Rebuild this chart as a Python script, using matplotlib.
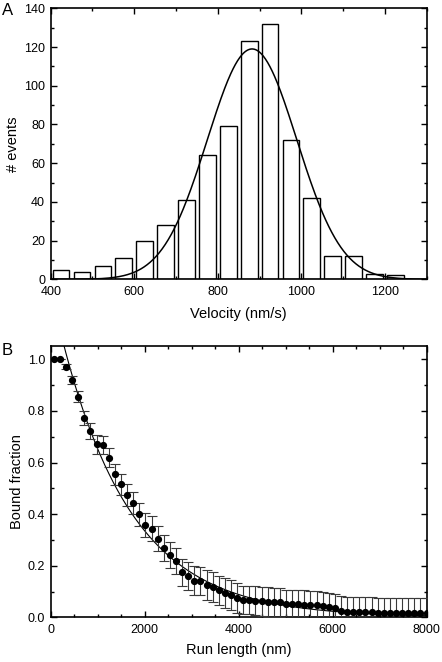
import numpy as np
import matplotlib
matplotlib.use("Agg")
import matplotlib.pyplot as plt
from matplotlib.ticker import MultipleLocator, FormatStrFormatter

plt.rcParams['font.family'] = ['Liberation Sans', 'DejaVu Sans']

# ---- Panel A data ----
vel_centers = [425, 475, 525, 575, 625, 675, 725, 775, 825, 875, 925, 975,
               1025, 1075, 1125, 1175, 1225]
vel_counts = [5, 4, 7, 11, 20, 28, 41, 64, 79, 123, 132, 72, 42, 12, 12, 3, 2]
gauss_amp = 119.0
gauss_mu = 882.0
gauss_sigma = 107.0

# ---- Panel B data ----
run_len = [66, 196, 326, 456, 586, 716, 846, 976, 1106, 1236, 1366, 1496, 1626,
           1756, 1886, 2016, 2146, 2276, 2406, 2536, 2666, 2796, 2926, 3056,
           3186, 3316, 3446, 3576, 3706, 3836, 3966, 4096, 4226, 4356, 4486,
           4616, 4746, 4876, 5006, 5136, 5266, 5396, 5526, 5656, 5786, 5916,
           6046, 6176, 6306, 6436, 6566, 6696, 6826, 6956, 7086, 7216, 7346,
           7476, 7606, 7736, 7866, 7996]
bound = [1.0, 1.0, 0.972, 0.92, 0.855, 0.773, 0.722, 0.67, 0.667, 0.618, 0.554,
         0.516, 0.474, 0.442, 0.40, 0.358, 0.344, 0.305, 0.269, 0.242, 0.218,
         0.174, 0.160, 0.142, 0.140, 0.125, 0.118, 0.105, 0.096, 0.087, 0.076,
         0.066, 0.066, 0.065, 0.062, 0.060, 0.058, 0.058, 0.052, 0.052, 0.050,
         0.049, 0.046, 0.046, 0.042, 0.040, 0.036, 0.025, 0.022, 0.021, 0.021,
         0.021, 0.020, 0.018, 0.018, 0.018, 0.017, 0.017, 0.017, 0.017, 0.017,
         0.017]
bound_err = [0.0, 0.0, 0.010, 0.015, 0.022, 0.027, 0.030, 0.035, 0.035, 0.037,
             0.040, 0.040, 0.042, 0.042, 0.045, 0.045, 0.047, 0.048, 0.050,
             0.050, 0.052, 0.053, 0.055, 0.055, 0.055, 0.057, 0.057, 0.057,
             0.058, 0.058, 0.058, 0.055, 0.055, 0.055, 0.055, 0.057, 0.057,
             0.057, 0.055, 0.055, 0.055, 0.055, 0.055, 0.055, 0.055, 0.055,
             0.055, 0.057, 0.057, 0.057, 0.057, 0.057, 0.057, 0.057, 0.057,
             0.057, 0.057, 0.057, 0.057, 0.057, 0.057, 0.057]
fit_x0 = 360.0
fit_lambda = 1500.0

fig = plt.figure(figsize=(4.42, 6.62), dpi=100)
axA = fig.add_axes([0.1147, 0.578, 0.8507, 0.4095])
axB = fig.add_axes([0.1147, 0.0675, 0.8507, 0.4103])

def style(ax):
    for s in ax.spines.values():
        s.set_linewidth(1.2)
    ax.tick_params(which='both', direction='in', top=True, right=True,
                   labelsize=9, width=1.0)
    ax.tick_params(axis='x', which='major', pad=5)
    ax.tick_params(axis='y', which='major', pad=4)
    ax.tick_params(which='major', length=4.5)
    ax.tick_params(which='minor', length=2.5)

# Panel A
axA.bar(vel_centers, vel_counts, width=40, facecolor='white', edgecolor='black',
        linewidth=1.0, zorder=2)
xg = np.linspace(400, 1300, 500)
axA.plot(xg, gauss_amp * np.exp(-0.5 * ((xg - gauss_mu) / gauss_sigma) ** 2),
         color='black', lw=1.1, zorder=3)
axA.set_xlim(400, 1300)
axA.set_ylim(0, 140)
axA.xaxis.set_major_locator(MultipleLocator(200))
axA.xaxis.set_minor_locator(MultipleLocator(100))
axA.yaxis.set_major_locator(MultipleLocator(20))
axA.yaxis.set_minor_locator(MultipleLocator(10))
style(axA)
axA.set_xlabel('Velocity (nm/s)', fontsize=10.5, labelpad=6)
axA.set_ylabel('# events', fontsize=10.5, labelpad=3)

# Panel B
axB.errorbar(run_len, bound, yerr=bound_err, fmt='o', color='black', ms=4.2,
             ecolor='#3a3a3a', elinewidth=0.8, capsize=3.6, capthick=0.8,
             zorder=3)
xf = np.linspace(0, 8000, 600)
axB.plot(xf, np.exp(-(xf - fit_x0) / fit_lambda), color='black', lw=0.8,
         zorder=2)
axB.set_xlim(0, 8000)
axB.set_ylim(0, 1.053)
axB.xaxis.set_major_locator(MultipleLocator(2000))
axB.xaxis.set_minor_locator(MultipleLocator(500))
axB.yaxis.set_major_locator(MultipleLocator(0.2))
axB.yaxis.set_minor_locator(MultipleLocator(0.1))
axB.yaxis.set_major_formatter(FormatStrFormatter('%.1f'))
style(axB)
axB.set_xlabel('Run length (nm)', fontsize=10.5, labelpad=5)
axB.set_ylabel('Bound fraction', fontsize=10.5, labelpad=3)

fig.text(0.004, 0.995, 'A', fontsize=12, va='top', ha='left')
fig.text(0.004, 0.482, 'B', fontsize=12, va='top', ha='left')

fig.savefig('out.png', dpi=100)
